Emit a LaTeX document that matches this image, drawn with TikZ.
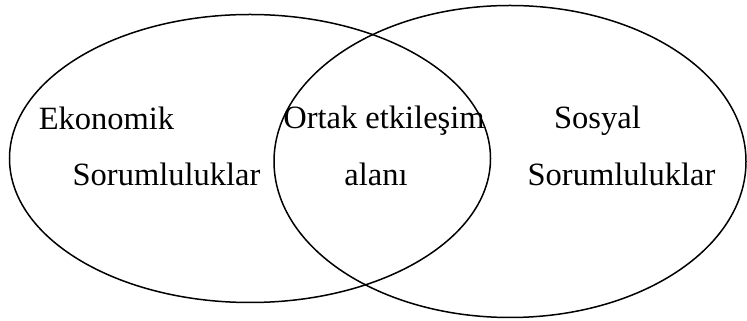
\documentclass[tikz,border=0pt]{standalone}
\usepackage{fontspec}
\setmainfont{Liberation Serif}
\newfontfamily\timesfont{Liberation Serif}
\usetikzlibrary{shapes.geometric}
\begin{document}
\begin{tikzpicture}[x=1pt,y=1pt,
  lbl/.style={anchor=base,inner sep=0pt,font=\timesfont\fontsize{32.5}{36}\selectfont},
  venn/.style={draw=black,line width=1.5pt,ellipse,inner sep=0pt}]
\useasboundingbox (0,0) rectangle (747,321);
\node[venn,minimum width=481pt,minimum height=288pt] (L) at (250,162.5) {};
\node[venn,minimum width=472pt,minimum height=312pt] (R) at (510,159.5) {};
\node[lbl] (e1) at (106.5,191) {Ekonomik};
\node[lbl] (e2) at (166.5,135) {Sorumluluklar};
\node[lbl] (o1) at (384,192) {Ortak etkileşim};
\node[lbl] (o2) at (376,135) {alanı};
\node[lbl] (s1) at (597.5,192) {Sosyal};
\node[lbl] (s2) at (621.5,135) {Sorumluluklar};
\end{tikzpicture}
\end{document}
